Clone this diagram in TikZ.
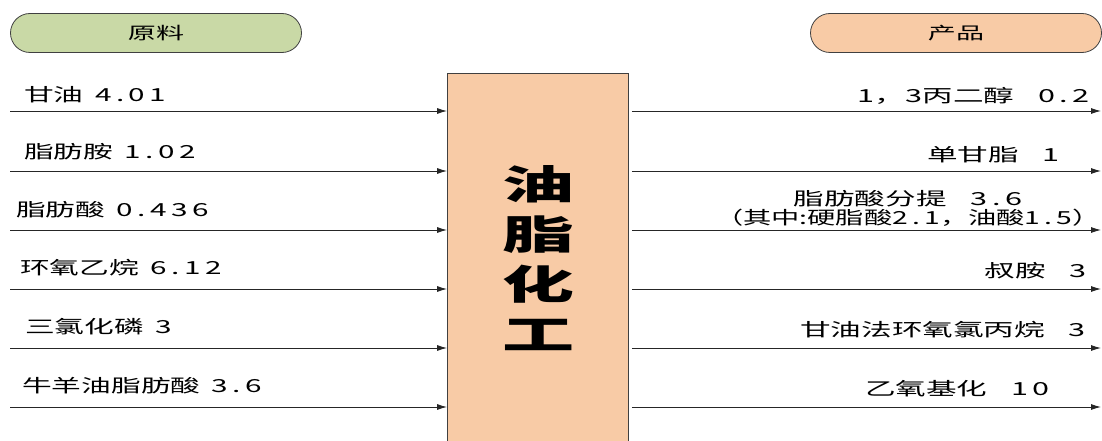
\documentclass[tikz,border=0pt]{standalone}
\usepackage{fontspec}
\usepackage{graphicx}
\newfontfamily\cjk{Noto Sans CJK SC}
\usetikzlibrary{arrows.meta,shapes.misc}
\definecolor{raw}{HTML}{C9D9A6}
\definecolor{peach}{HTML}{F8CBA6}
\newcommand{\hsx}[1]{\scalebox{1.65}[1]{#1}}
\newcommand{\hsr}[1]{\scalebox{1.7}[1]{#1}}
\newcommand{\hsxb}[1]{\scalebox{1.8}[1]{#1}}
\newcommand{\nm}[1]{{\addfontfeatures{LetterSpace=15}#1}}
\newcommand{\lgapx}{\hspace{7pt}}
\newcommand{\rgapx}{\hspace{14pt}}
\tikzset{
  lab/.style={inner sep=0pt, font=\cjk\fontsize{18}{19}\selectfont},
  head/.style={rounded rectangle, draw=black!75, line width=0.8pt, minimum width=291pt, minimum height=39pt, inner sep=0pt, font=\cjk\fontsize{17}{18}\selectfont},
  arr/.style={-{Latex[length=10pt,width=6pt]}, line width=0.9pt, black!85},
}
\begin{document}
\begin{tikzpicture}[x=1pt,y=-1pt]
\useasboundingbox (0,0) rectangle (1102,441);
\node[head, fill=raw] (rawhead) at (156,33) {\hsx{原料}};
\node[head, fill=peach] (prodhead) at (956,33) {\hsx{产品}};
\node[draw=black!75, line width=0.8pt, fill=peach, minimum width=181pt, minimum height=380pt, anchor=north, inner sep=0pt] (proc) at (538,73) {};
\node[align=center, inner sep=0pt, font=\cjk\bfseries\fontsize{40}{50}\selectfont] (title) at (538,258) {\hsxb{油}\\\hsxb{脂}\\\hsxb{化}\\\hsxb{工}};
% left inputs
\node[lab, anchor=west] (i1) at (24,95) {\hsx{甘油\lgapx\nm{4.01}}};
\node[lab, anchor=west] (i2) at (24,152) {\hsx{脂肪胺\lgapx\nm{1.02}}};
\node[lab, anchor=west] (i3) at (16,210) {\hsx{脂肪酸\lgapx\nm{0.436}}};
\node[lab, anchor=west] (i4) at (20,268) {\hsx{环氧乙烷\lgapx\nm{6.12}}};
\node[lab, anchor=west] (i5) at (25,327) {\hsx{三氯化磷\lgapx\nm{3}}};
\node[lab, anchor=west] (i6) at (22,386) {\hsx{牛羊油脂肪酸\lgapx\nm{3.6}}};
\coordinate (a1) at (10,111);
\coordinate (a2) at (10,171);
\coordinate (a3) at (10,230);
\coordinate (a4) at (10,289);
\coordinate (a5) at (10,348);
\coordinate (a6) at (10,407);
\foreach \k in {1,...,6}{\draw[arr] (a\k) -- (a\k -| proc.west);}
% right outputs
\node[lab, anchor=east] (o1) at (1090,96) {\hsr{\nm{1}，\nm{3}丙二醇\rgapx\nm{0.2}}};
\node[lab, anchor=east] (o2) at (1060,155) {\hsr{单甘脂\rgapx\nm{1}}};
\node[lab, align=center] (o3) at (908,208) {\hsr{脂肪酸分提\rgapx\nm{3.6}}\\\scalebox{1.57}[1]{（其中:硬脂酸\nm{2.1}，油酸\nm{1.5}）}};
\node[lab, anchor=east] (o4) at (1087,271) {\hsr{叔胺\rgapx\nm{3}}};
\node[lab, anchor=east] (o5) at (1086,330) {\hsr{甘油法环氧氯丙烷\rgapx\nm{3}}};
\node[lab, anchor=east] (o6) at (1050,389) {\hsr{乙氧基化\rgapx\nm{10}}};
\coordinate (b1) at (1101,111);
\coordinate (b2) at (1101,171);
\coordinate (b3) at (1101,230);
\coordinate (b4) at (1101,289);
\coordinate (b5) at (1101,348);
\coordinate (b6) at (1101,407);
\foreach \k in {1,...,6}{\draw[arr] ([xshift=3pt]proc.east |- b\k) -- (b\k);}
\end{tikzpicture}
\end{document}
